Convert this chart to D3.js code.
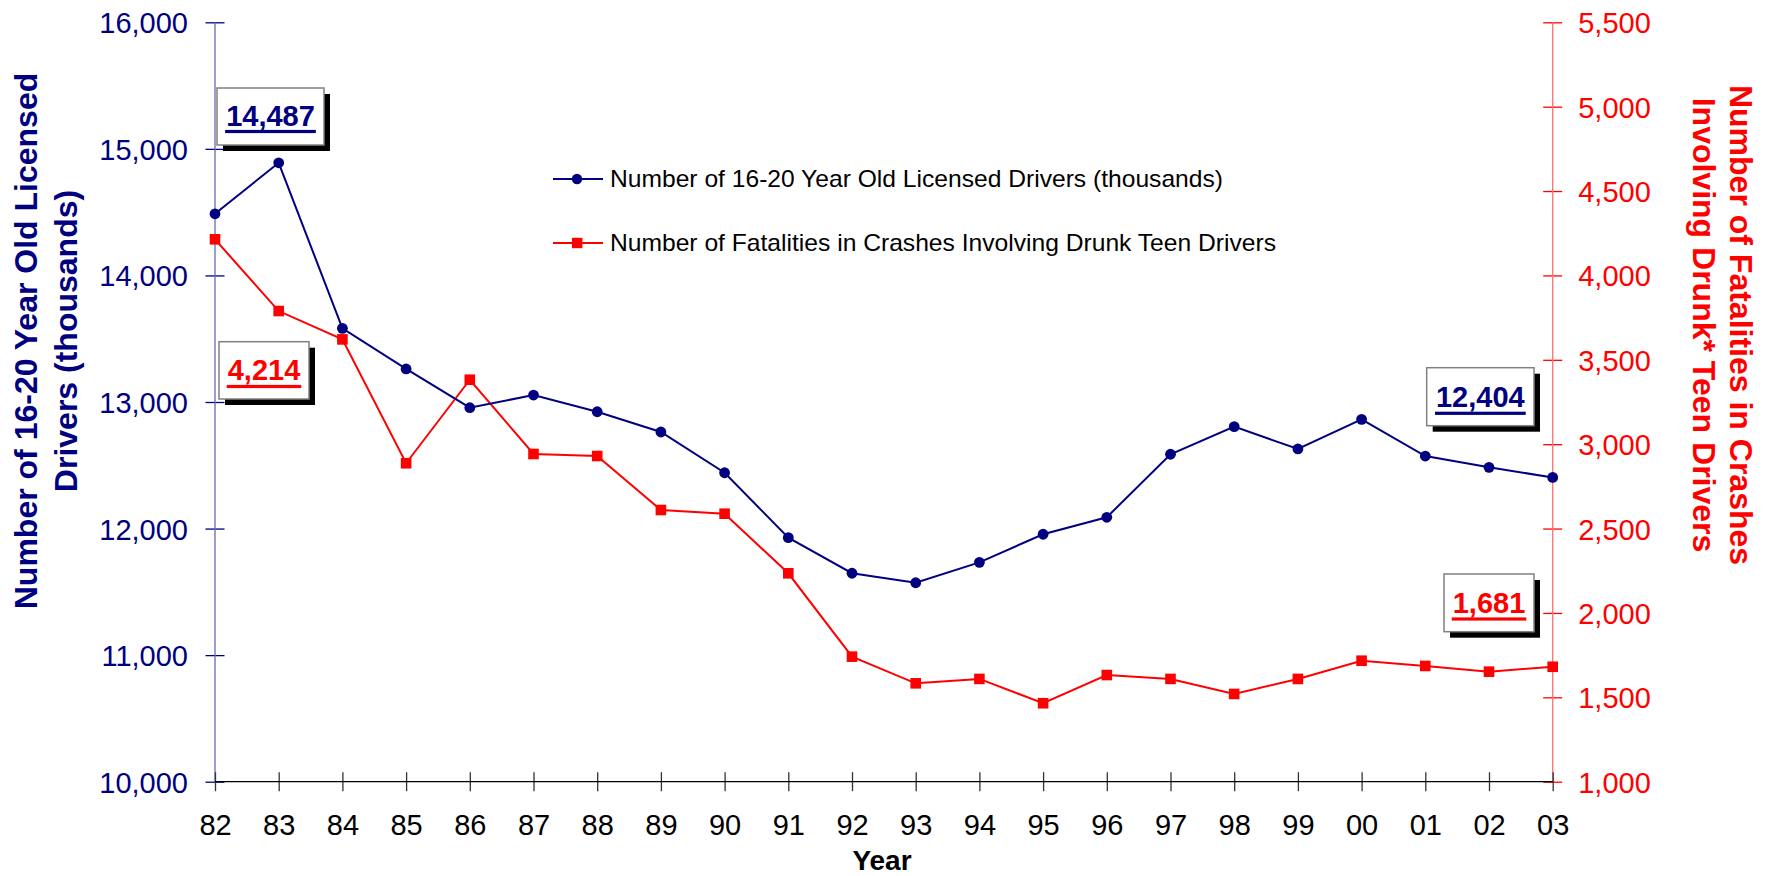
<!DOCTYPE html>
<html>
<head>
<meta charset="utf-8">
<script src="https://cdn.jsdelivr.net/npm/d3@7"></script>
<style>
  html, body { margin: 0; padding: 0; background: #fff; }
  svg { display: block; font-family: Arial, "Liberation Sans", sans-serif; }
</style>
</head>
<body>
<svg id="chart" width="1771" height="876"></svg>
<script>
// ---------- DATA ----------
const years = ["82","83","84","85","86","87","88","89","90","91","92","93","94","95","96","97","98","99","00","01","02","03"];
const licensedDrivers = [14487,14890,13582,13261,12955,13055,12923,12763,12441,11928,11647,11572,11733,11955,12089,12587,12805,12629,12863,12573,12484,12404];
const fatalities = [4214,3789,3621,2887,3382,2942,2930,2610,2588,2235,1741,1583,1609,1465,1632,1609,1520,1609,1717,1686,1652,1681];
const leftTicks = [10000,11000,12000,13000,14000,15000,16000];
const rightTicks = [1000,1500,2000,2500,3000,3500,4000,4500,5000,5500];
const seriesNames = ["Number of 16-20 Year Old Licensed Drivers (thousands)", "Number of Fatalities in Crashes Involving Drunk Teen Drivers"];
const leftTitle = ["Number of 16-20 Year Old Licensed", "Drivers (thousands)"];
const rightTitle = ["Number of Fatalities in Crashes", "Involving Drunk* Teen Drivers"];
const xTitle = "Year";

// ---------- LAYOUT ----------
const NAVY = "#000080", RED = "#ff0000";
const svg = d3.select("#chart");
const x0 = 215, x1 = 1552.7, yTop = 22.3, yBot = 781.7;
const fmt = d3.format(",");

const x = d3.scalePoint().domain(years).range([x0, x1]).padding(0);
const yL = d3.scaleLinear().domain([10000, 16000]).range([yBot, yTop]);
const yR = d3.scaleLinear().domain([1000, 5500]).range([yBot, yTop]);

// Left axis
const gL = svg.append("g").attr("transform", `translate(${x0},0)`)
  .call(d3.axisLeft(yL).tickValues(leftTicks).tickFormat(fmt).tickSize(9.5).tickPadding(17.5));
gL.select(".domain").remove();
gL.selectAll(".tick line").attr("x1", 9.5).attr("x2", -9.5).attr("stroke", NAVY).attr("stroke-width", 1.3);
gL.selectAll(".tick text").attr("fill", NAVY).attr("font-size", 29).attr("dy", "0.36em")
  .attr("font-family", "Arial, 'Liberation Sans', sans-serif");
svg.append("line").attr("x1", x0).attr("x2", x0).attr("y1", yTop).attr("y2", yBot)
  .attr("stroke", "#6a6ab0").attr("stroke-width", 1.3);

// Right axis
const gR = svg.append("g").attr("transform", `translate(${x1},0)`)
  .call(d3.axisRight(yR).tickValues(rightTicks).tickFormat(fmt).tickSize(9.5).tickPadding(16));
gR.select(".domain").remove();
gR.selectAll(".tick line").attr("x1", -9.5).attr("x2", 9.5).attr("stroke", RED).attr("stroke-width", 1.3);
gR.selectAll(".tick text").attr("fill", RED).attr("font-size", 29).attr("dy", "0.36em")
  .attr("font-family", "Arial, 'Liberation Sans', sans-serif");
svg.append("line").attr("x1", x1).attr("x2", x1).attr("y1", yTop).attr("y2", yBot)
  .attr("stroke", "#ff7070").attr("stroke-width", 1.3);

// Bottom axis
const gX = svg.append("g").attr("transform", `translate(0,${yBot})`)
  .call(d3.axisBottom(x).tickSize(9.5));
gX.select(".domain").remove();
gX.selectAll(".tick line").attr("y1", -9.5).attr("y2", 9.5).attr("stroke", "#333").attr("stroke-width", 1.3);
gX.selectAll(".tick text").attr("fill", "#000").attr("font-size", 29).attr("y", 53).attr("dy", 0)
  .attr("font-family", "Arial, 'Liberation Sans', sans-serif");
svg.append("line").attr("x1", x0).attr("x2", x1).attr("y1", yBot).attr("y2", yBot)
  .attr("stroke", "#000").attr("stroke-width", 1.3);

// Axis titles
svg.append("text").attr("x", 882).attr("y", 870).attr("text-anchor", "middle")
  .attr("font-size", 28).attr("font-weight", "bold").attr("fill", "#000").text(xTitle);

[[37, leftTitle[0]], [77, leftTitle[1]]].forEach(([bx, t]) => {
  svg.append("text").attr("transform", `translate(${bx},341) rotate(-90)`)
    .attr("text-anchor", "middle").attr("font-size", 32).attr("font-weight", "bold")
    .attr("fill", NAVY).text(t);
});
[[1730, rightTitle[0]], [1693, rightTitle[1]]].forEach(([bx, t]) => {
  svg.append("text").attr("transform", `translate(${bx},325) rotate(90)`)
    .attr("text-anchor", "middle").attr("font-size", 32).attr("font-weight", "bold")
    .attr("fill", RED).text(t);
});

// Lines
const lineL = d3.line().x((d, i) => x(years[i])).y(d => yL(d));
const lineR = d3.line().x((d, i) => x(years[i])).y(d => yR(d));

svg.append("path").datum(fatalities).attr("d", lineR).attr("fill", "none")
  .attr("stroke", RED).attr("stroke-width", 2);
svg.append("path").datum(licensedDrivers).attr("d", lineL).attr("fill", "none")
  .attr("stroke", NAVY).attr("stroke-width", 2);

svg.append("g").selectAll("rect").data(fatalities).join("rect")
  .attr("x", (d, i) => x(years[i]) - 5.3).attr("y", d => yR(d) - 5.3)
  .attr("width", 10.6).attr("height", 10.6).attr("fill", RED);
svg.append("g").selectAll("circle").data(licensedDrivers).join("circle")
  .attr("cx", (d, i) => x(years[i])).attr("cy", d => yL(d)).attr("r", 5.4).attr("fill", NAVY);

// Legend
const legend = svg.append("g");
[[179, NAVY, "circle", seriesNames[0], 187, 613], [243, RED, "square", seriesNames[1], 251, 666]].forEach(([ly, c, shape, name, by, tl]) => {
  legend.append("line").attr("x1", 553).attr("x2", 603).attr("y1", ly).attr("y2", ly)
    .attr("stroke", c).attr("stroke-width", 2);
  if (shape === "circle") legend.append("circle").attr("cx", 577).attr("cy", ly).attr("r", 5.2).attr("fill", c);
  else legend.append("rect").attr("x", 572).attr("y", ly - 5.2).attr("width", 10.4).attr("height", 10.4).attr("fill", c);
  legend.append("text").attr("x", 610).attr("y", by).attr("font-size", 24)
    .attr("font-family", "Arial, 'Liberation Sans', sans-serif")
    .attr("textLength", tl).attr("lengthAdjust", "spacingAndGlyphs")
    .attr("fill", "#000").text(name);
});

// Callout boxes
function callout(bx, by, bw, bh, value, color, baseY, ulY) {
  const g = svg.append("g");
  g.append("rect").attr("x", bx + 6).attr("y", by + 6).attr("width", bw).attr("height", bh).attr("fill", "#000");
  g.append("rect").attr("x", bx).attr("y", by).attr("width", bw).attr("height", bh)
    .attr("fill", "#fff").attr("stroke", "#808080").attr("stroke-width", 1.5);
  const t = g.append("text").attr("x", bx + bw / 2).attr("y", baseY).attr("text-anchor", "middle")
    .attr("font-size", 29).attr("font-weight", "bold").attr("fill", color).text(fmt(value));
  const w = t.node().getComputedTextLength();
  g.append("rect").attr("x", bx + bw / 2 - w / 2 - 1).attr("y", ulY - 1.6).attr("width", w + 2).attr("height", 3.2).attr("fill", color);
}
const n = years.length - 1;
callout(x(years[0]) + 2, 88, 107, 57, licensedDrivers[0], NAVY, 126, 131.5);
callout(x(years[0]) + 4, 341.7, 90, 57.3, fatalities[0], RED, 380, 386.5);
callout(x(years[n]) - 126, 367.7, 107.3, 58, licensedDrivers[n], NAVY, 407.3, 413.3);
callout(x(years[n]) - 108.7, 574, 90, 57.7, fatalities[n], RED, 612.7, 619);
</script>
</body>
</html>
